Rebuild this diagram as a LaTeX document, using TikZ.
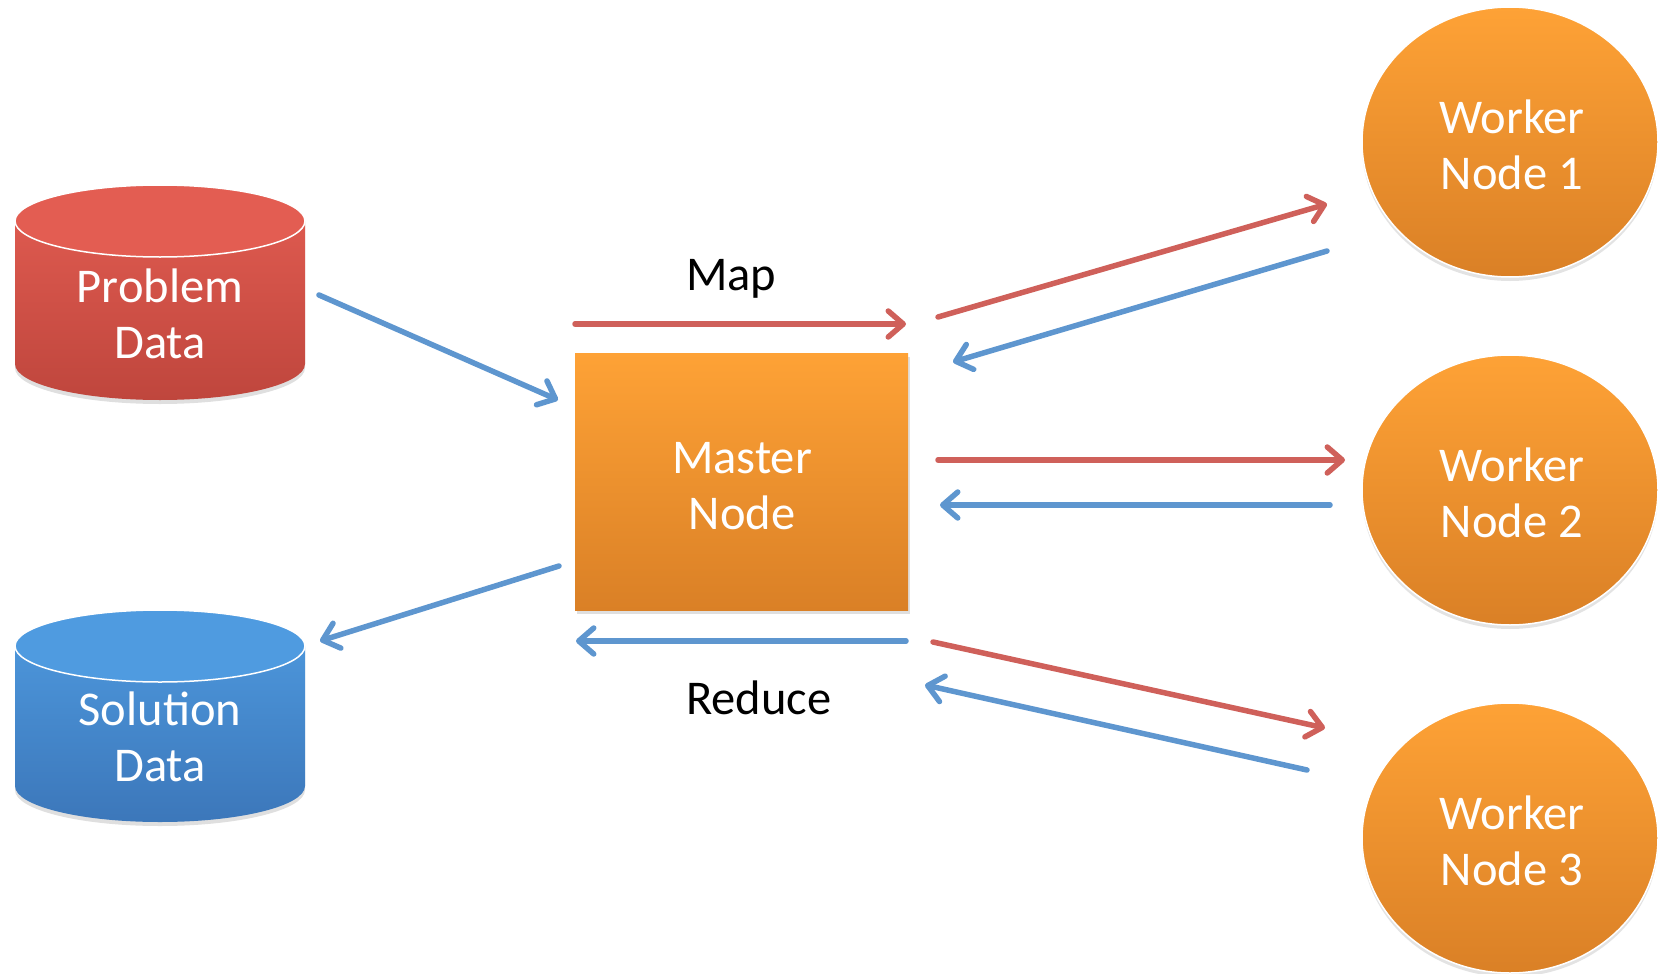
\documentclass[tikz,border=0pt]{standalone}
\usepackage{fontspec}
\setmainfont{Carlito}
\usetikzlibrary{arrows.meta,shadows,shapes.geometric}
\definecolor{redA}{HTML}{E35D52}
\definecolor{redB}{HTML}{BF463D}
\definecolor{blueA}{HTML}{4F9BE0}
\definecolor{blueB}{HTML}{3C77BA}
\definecolor{orA}{HTML}{FEA236}
\definecolor{orB}{HTML}{DA8026}
\definecolor{redArrow}{HTML}{CF605A}
\definecolor{blueArrow}{HTML}{5E96CF}
\newcommand\dbcyl[7]{%
  \path[drop shadow={opacity=0.25,shadow xshift=0pt,shadow yshift=-4pt}, top color=#6, bottom color=#7]
    (#1-#4,#2) -- (#1-#4,#3) arc[start angle=180,end angle=0,x radius=#4,y radius=#5]
    -- (#1+#4,#2) arc[start angle=0,end angle=-180,x radius=#4,y radius=#5] -- cycle;
  \draw[white, line width=1.5pt, fill=#6] (#1,#2) ellipse[x radius=#4,y radius=#5];
}
\begin{document}
\begin{tikzpicture}[x=1pt,y=-1pt,
  lbl/.style={font=\fontsize{48.5}{56.5}\selectfont, text=white, align=center, inner sep=0pt},
  tag/.style={font=\fontsize{48.5}{56.5}\selectfont, text=black, inner sep=0pt, anchor=base west},
  arr/.style={line width=5.5pt, line cap=round, -{Straight Barb[length=15pt,width=26pt,round]}},
  redarr/.style={arr, draw=redArrow},
  bluearr/.style={arr, draw=blueArrow},
  worker/.style={ellipse, minimum width=296pt, minimum height=270pt, inner sep=0pt,
     draw=white, line width=1.5pt, top color=orA, bottom color=orB,
     drop shadow={opacity=0.22,shadow xshift=0pt,shadow yshift=-4pt},
     font=\fontsize{48.5}{56.5}\selectfont, text=white, align=center},
  master/.style={rectangle, minimum width=333pt, minimum height=257pt, inner sep=0pt,
     top color=orA, bottom color=orB,
     drop shadow={opacity=0.25,shadow xshift=2pt,shadow yshift=-4pt},
     font=\fontsize{48.5}{56.5}\selectfont, text=white, align=center}]
\useasboundingbox (0,0) rectangle (1658,974);

% cylinders
\dbcyl{160}{221}{364}{145}{36}{redA}{redB}
\node[lbl] (prob) at (160,314) {Problem\\Data};
\dbcyl{160}{646}{786}{145}{36}{blueA}{blueB}
\node[lbl] (sol) at (160,737) {Solution\\Data};

% master
\node[master] (master) at (741.5,481.5) {};
\node[lbl] (mtext) at (742,486) {Master\\Node};
% workers
\node[worker] (w1) at (1510,142) {};
\node[lbl] (w1t) at (1512,145) {Worker\\Node 1};
\node[worker] (w2) at (1510,490) {};
\node[lbl] (w2t) at (1512,493) {Worker\\Node 2};
\node[worker] (w3) at (1510,838) {};
\node[lbl] (w3t) at (1512,841) {Worker\\Node 3};

% labels
\node[tag] (map) at (686,290) {Map};
\node[tag] (reduce) at (686,714) {Reduce};

% connector end points
\coordinate (pa1) at (319,295);  \coordinate (pa2) at (558,400);
\coordinate (ma1) at (575,324);  \coordinate (ma2) at (906,324);
\coordinate (r1a) at (938,317);  \coordinate (r1b) at (1327,204);
\coordinate (b1a) at (1327,251); \coordinate (b1b) at (953,362);
\coordinate (r2a) at (938,460);  \coordinate (r2b) at (1345,460);
\coordinate (b2a) at (1330,505); \coordinate (b2b) at (940,505);
\coordinate (sa1) at (559,566);  \coordinate (sa2) at (320,641);
\coordinate (ra1) at (906,641);  \coordinate (ra2) at (576,641);
\coordinate (r3a) at (933,642);  \coordinate (r3b) at (1325,728);
\coordinate (b3a) at (1307,770); \coordinate (b3b) at (925,685);

\draw[bluearr] (pa1) -- (pa2);
\draw[redarr] (ma1) -- (ma2);
\draw[redarr] (r1a) -- (r1b);
\draw[bluearr] (b1a) -- (b1b);
\draw[redarr] (r2a) -- (r2b);
\draw[bluearr] (b2a) -- (b2b);
\draw[bluearr] (sa1) -- (sa2);
\draw[bluearr] (ra1) -- (ra2);
\draw[redarr] (r3a) -- (r3b);
\draw[bluearr] (b3a) -- (b3b);
\end{tikzpicture}
\end{document}
